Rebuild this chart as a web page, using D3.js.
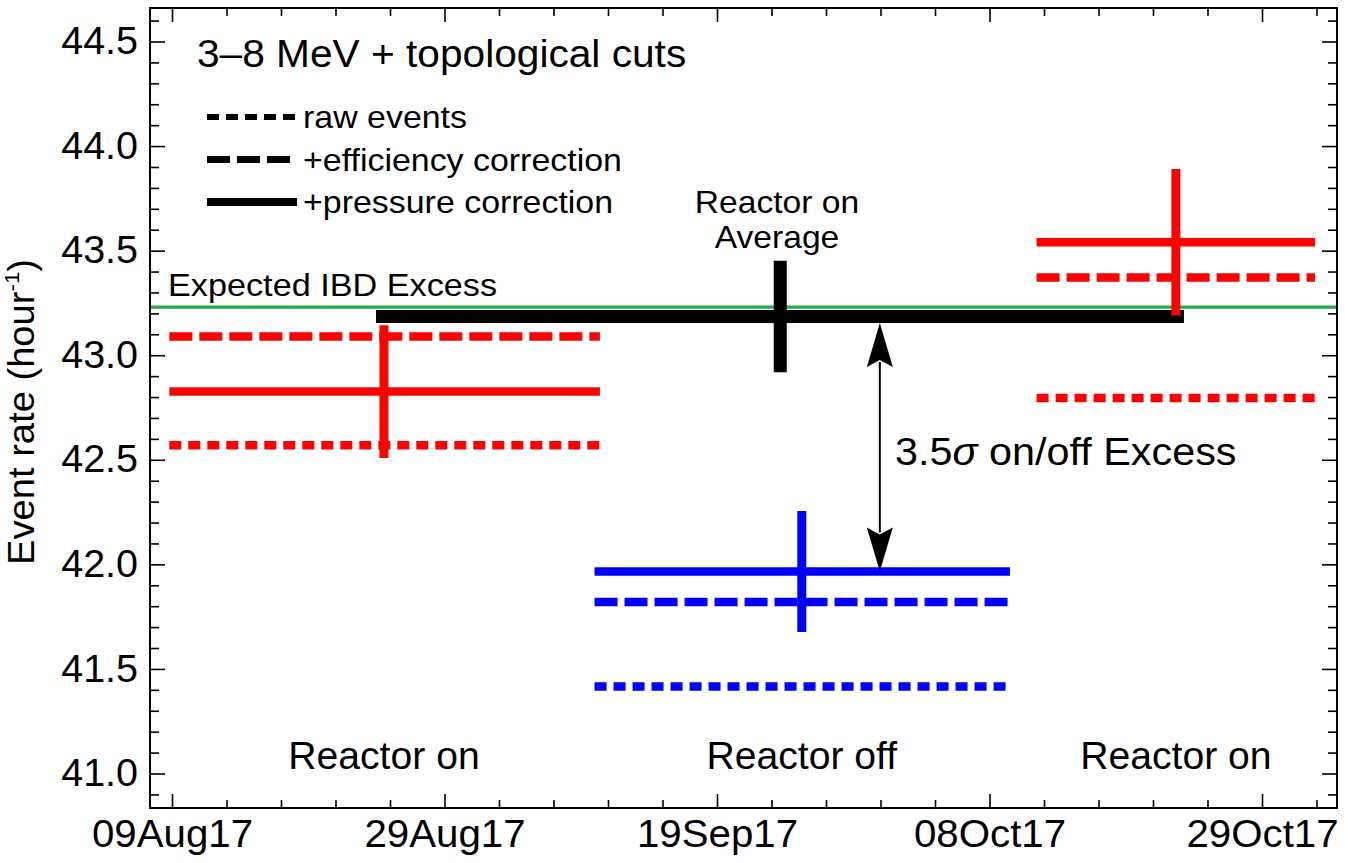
<!DOCTYPE html>
<html>
<head>
<meta charset="utf-8">
<script src="https://cdn.jsdelivr.net/npm/d3@7"></script>
<style>
  html, body { margin: 0; padding: 0; background: #fff; }
  svg { display: block; }
  text { font-family: "Liberation Sans", Arial, Helvetica, sans-serif; fill: #000; }
</style>
</head>
<body>
<svg id="chart" width="1345" height="863"></svg>
<script>
// ---------------- data ----------------
// x in days since 09Aug17 (major tick every 20.25 days)
const xTickValues = [0, 20.25, 40.5, 60.75, 81];
const xTickLabels = ["09Aug17", "29Aug17", "19Sep17", "08Oct17", "29Oct17"];
const yTickValues = [41.0, 41.5, 42.0, 42.5, 43.0, 43.5, 44.0, 44.5];

const periodNames = ["Reactor on", "Reactor off", "Reactor on"];
const periodColors = ["#ff0000", "#0000ff", "#ff0000"];
const periodStart = [-0.2, 31.4, 64.25];
const periodEnd = [31.8, 62.27, 84.94];
const periodMid = [15.75, 46.8, 74.6];
const rawRate = [42.57, 41.416, 42.795];
const effRate = [43.09, 41.82, 43.372];
const presRate = [42.826, 41.966, 43.54];
const presErr = [0.317, 0.289, 0.35];

const avgStart = 15.16, avgEnd = 75.2, avgMid = 45.2;
const avgRate = 43.185, avgErr = 0.267;
const expectedIBD = 43.23;
const arrowDay = 52.6;

const legendLabels = ["raw events", "+efficiency correction", "+pressure correction"];
const legendDash = ["12,7", "23,7", null];

// ---------------- layout ----------------
const svg = d3.select("#chart");
const L = 150, R = 1337, T = 8, B = 808;
const x = d3.scaleLinear().domain([0, 81]).range([172, 172 + 272.5 * 4]);
const y = d3.scaleLinear().domain([41.0, 44.5]).range([773.5, 41.5]);

const g = svg.append("g");

function label(px, py, size, sx, anchor) {
  return g.append("g").attr("transform", `translate(${px},${py}) scale(${sx},1)`)
    .append("text").attr("x", 0).attr("y", 0)
    .attr("font-size", size).attr("text-anchor", anchor || "start");
}

// expected IBD line
g.append("line")
  .attr("x1", L).attr("x2", R)
  .attr("y1", y(expectedIBD)).attr("y2", y(expectedIBD))
  .attr("stroke", "#22aa44").attr("stroke-width", 3.3);

// average line
g.append("line")
  .attr("x1", x(avgStart)).attr("x2", x(avgEnd))
  .attr("y1", y(avgRate)).attr("y2", y(avgRate))
  .attr("stroke", "#000").attr("stroke-width", 13);
g.append("line")
  .attr("x1", x(avgMid)).attr("x2", x(avgMid))
  .attr("y1", y(avgRate + avgErr)).attr("y2", y(avgRate - avgErr))
  .attr("stroke", "#000").attr("stroke-width", 13);

// periods
const idx = d3.range(periodNames.length);
const series = [
  { vals: rawRate, dash: "12,7" },
  { vals: effRate, dash: "23,7" },
  { vals: presRate, dash: null }
];
series.forEach(s => {
  g.selectAll(null).data(idx).enter().append("line")
    .attr("x1", i => x(periodStart[i])).attr("x2", i => x(periodEnd[i]))
    .attr("y1", i => y(s.vals[i])).attr("y2", i => y(s.vals[i]))
    .attr("stroke", i => periodColors[i])
    .attr("stroke-width", 8.5)
    .attr("stroke-dasharray", s.dash);
});
g.selectAll(null).data(idx).enter().append("line")
  .attr("x1", i => x(periodMid[i])).attr("x2", i => x(periodMid[i]))
  .attr("y1", i => y(presRate[i] + presErr[i])).attr("y2", i => y(presRate[i] - presErr[i]))
  .attr("stroke", i => periodColors[i]).attr("stroke-width", 9);

// period labels
idx.forEach(i => {
  label(x(periodMid[i]), 769, 38, 1.03, "middle").text(periodNames[i]);
});

// arrow
const ax = x(arrowDay);
const yTop = y(avgRate) + 6.5, yBot = y(presRate[1]);
const headL = 44, headW = 13, notch = 7;
g.append("line").attr("x1", ax).attr("x2", ax)
  .attr("y1", yTop + headL - 5).attr("y2", yBot - headL + 5)
  .attr("stroke", "#000").attr("stroke-width", 2);
g.append("path")
  .attr("d", `M${ax},${yTop} L${ax + headW},${yTop + headL} L${ax},${yTop + headL - notch} L${ax - headW},${yTop + headL} Z`)
  .attr("fill", "#000");
g.append("path")
  .attr("d", `M${ax},${yBot} L${ax + headW},${yBot - headL} L${ax},${yBot - headL + notch} L${ax - headW},${yBot - headL} Z`)
  .attr("fill", "#000");

const excessText = label(895, 465, 38.5, 1.075);
excessText.append("tspan").text("3.5");
excessText.append("tspan").attr("font-style", "italic").text("σ");
excessText.append("tspan").text(" on/off Excess");

// annotations
label(168, 296, 32, 1.07).text("Expected IBD Excess");
label(777, 213, 32, 1.05, "middle").text("Reactor on");
label(777, 248, 32, 1.05, "middle").text("Average");
label(197, 67, 38, 1.07).text("3–8 MeV + topological cuts");

// legend
legendLabels.forEach((lab, i) => {
  const ly = 117 + i * 42.5;
  g.append("line").attr("x1", 207).attr("x2", 297).attr("y1", ly).attr("y2", ly)
    .attr("stroke", "#000").attr("stroke-width", i === 0 ? 6 : (i === 1 ? 7 : 8))
    .attr("stroke-dasharray", legendDash[i]);
  label(303, ly + 11, 32, 1.06).text(lab);
});

// ---------------- axes ----------------
const minorX = d3.range(0, 22).map(k => k * 4.05).filter(v => !xTickValues.some(t => Math.abs(t - v) < 1e-6));
const minorY = d3.range(409, 447).map(k => k / 10).filter(v => !yTickValues.some(t => Math.abs(t - v) < 1e-6));

const axG = svg.append("g");
// bottom
axG.append("g").attr("transform", `translate(0,${B})`)
  .call(d3.axisBottom(x).tickValues(xTickValues).tickFormat((d, i) => xTickLabels[i]).tickSize(-14))
  .call(a => a.selectAll("text").attr("font-size", 38).attr("y", 39).attr("dy", "0")
    .attr("transform", "scale(1.06,1)"));
axG.append("g").attr("transform", `translate(0,${B})`)
  .call(d3.axisBottom(x).tickValues(minorX).tickFormat("").tickSize(-8));
// top
axG.append("g").attr("transform", `translate(0,${T})`)
  .call(d3.axisTop(x).tickValues(xTickValues).tickFormat("").tickSize(-14));
axG.append("g").attr("transform", `translate(0,${T})`)
  .call(d3.axisTop(x).tickValues(minorX).tickFormat("").tickSize(-8));
// left
axG.append("g").attr("transform", `translate(${L},0)`)
  .call(d3.axisLeft(y).tickValues(yTickValues).tickFormat(d3.format(".1f")).tickSize(-15).tickPadding(12))
  .call(a => a.selectAll("text").attr("font-size", 38).attr("x", -11.5).attr("transform", "scale(1.04,1)"));
axG.append("g").attr("transform", `translate(${L},0)`)
  .call(d3.axisLeft(y).tickValues(minorY).tickFormat("").tickSize(-9));
// right
axG.append("g").attr("transform", `translate(${R},0)`)
  .call(d3.axisRight(y).tickValues(yTickValues).tickFormat("").tickSize(-15));
axG.append("g").attr("transform", `translate(${R},0)`)
  .call(d3.axisRight(y).tickValues(minorY).tickFormat("").tickSize(-9));

axG.selectAll(".domain").remove();
axG.selectAll(".tick line").attr("stroke", "#000").attr("stroke-width", 1.6);
axG.selectAll(".tick text").attr("fill", "#000").attr("font-family", "Liberation Sans, Arial, sans-serif");

svg.append("rect").attr("x", L).attr("y", T).attr("width", R - L).attr("height", B - T)
  .attr("fill", "none").attr("stroke", "#000").attr("stroke-width", 2);

// y title
const yt = svg.append("text").attr("transform", "translate(34,412) rotate(-90) scale(1.06,1)")
  .attr("text-anchor", "middle").attr("font-size", 36);
yt.append("tspan").text("Event rate (hour");
yt.append("tspan").attr("font-size", 21).attr("dy", -15).text("-1");
yt.append("tspan").attr("dy", 15).text(")");
</script>
</body>
</html>
